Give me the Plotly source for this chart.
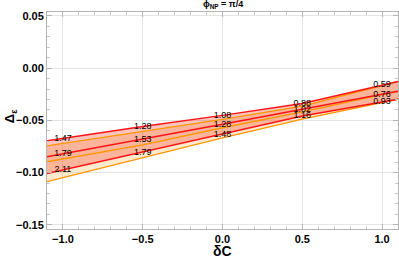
import plotly.graph_objects as go

# x grid (δC)
dC = [-1.1, -1.0, -0.5, 0.0, 0.5, 1.0, 1.1]

# red contour lines (upper, middle, lower)
red_top = [-0.0696, -0.0673, -0.0558, -0.0452, -0.0339, -0.0163, -0.0128]
red_mid = [-0.0848, -0.0820, -0.0683, -0.0538, -0.0394, -0.0250, -0.0221]
red_low = [-0.1008, -0.0974, -0.0805, -0.0635, -0.0459, -0.0324, -0.0297]

# orange contour lines (upper, middle, lower)
org_top = [-0.0744, -0.0721, -0.0606, -0.0490, -0.0363, -0.0166, -0.0128]
org_mid = [-0.0896, -0.0868, -0.0734, -0.0570, -0.0418, -0.0253, -0.0221]
org_low = [-0.1087, -0.1049, -0.0860, -0.0668, -0.0488, -0.0329, -0.0297]

# contour labels
lab_x = [-1.0, -0.5, 0.0, 0.5, 1.0]
lab_top = ["1.47", "1.28", "1.08", "0.88", "0.59"]
lab_mid = ["1.79", "1.53", "1.28", "1.02", "0.76"]
lab_low = ["2.11", "1.79", "1.48", "1.16", "0.93"]
lab_top_y = [-0.0673, -0.0558, -0.0452, -0.0339, -0.0163]
lab_mid_y = [-0.0820, -0.0683, -0.0538, -0.0394, -0.0250]
lab_low_y = [-0.0974, -0.0805, -0.0635, -0.0459, -0.0324]

xticks = [-1.0, -0.5, 0.0, 0.5, 1.0]
yticks = [-0.15, -0.10, -0.05, 0.00, 0.05]
yticklabels = ["\u22120.15", "\u22120.10", "\u22120.05", "0.00", "0.05"]
xticklabels = ["\u22121.0", "\u22120.5", "0.0", "0.5", "1.0"]

RED = "rgb(255,20,20)"
ORANGE = "rgb(255,150,0)"

fig = go.Figure()

# orange band
fig.add_trace(go.Scatter(x=dC, y=org_low, mode="lines", line=dict(width=0), showlegend=False, hoverinfo="skip"))
fig.add_trace(go.Scatter(x=dC, y=org_top, mode="lines", line=dict(width=0), fill="tonexty",
                         fillcolor="rgba(255,170,60,0.25)", showlegend=False, hoverinfo="skip"))
# red band
fig.add_trace(go.Scatter(x=dC, y=red_low, mode="lines", line=dict(width=0), showlegend=False, hoverinfo="skip"))
fig.add_trace(go.Scatter(x=dC, y=red_top, mode="lines", line=dict(width=0), fill="tonexty",
                         fillcolor="rgba(255,60,40,0.30)", showlegend=False, hoverinfo="skip"))

for ys in (org_top, org_mid, org_low):
    fig.add_trace(go.Scatter(x=dC, y=ys, mode="lines", line=dict(color=ORANGE, width=1.4),
                             showlegend=False, hoverinfo="skip"))
for ys in (red_top, red_mid, red_low):
    fig.add_trace(go.Scatter(x=dC, y=ys, mode="lines", line=dict(color=RED, width=1.5),
                             showlegend=False, hoverinfo="skip"))

for ly, lt in ((lab_top_y, lab_top), (lab_mid_y, lab_mid), (lab_low_y, lab_low)):
    fig.add_trace(go.Scatter(x=lab_x, y=ly, mode="text", text=lt, cliponaxis=False,
                             textfont=dict(family="Liberation Sans", size=9, color="black"),
                             textposition="middle center", showlegend=False, hoverinfo="skip"))

axis_common = dict(
    showline=True, linecolor="#b4b4b4", linewidth=1, mirror="allticks",
    ticks="inside", ticklen=5, tickcolor="#b4b4b4", tickwidth=1,
    showgrid=True, gridcolor="#e4e4e4", gridwidth=1, zeroline=False, automargin=False,
    tickfont=dict(family="Liberation Sans", size=11, color="black", weight="bold"),
)

fig.update_xaxes(range=[-1.1, 1.1], tickvals=xticks, ticktext=xticklabels,
                 minor=dict(ticks="inside", ticklen=3, tickcolor="#c8c8c8", dtick=0.1, tick0=0, showgrid=False),
                 **axis_common)
fig.update_yaxes(range=[-0.154, 0.0538], tickvals=yticks, ticktext=yticklabels,
                 minor=dict(ticks="inside", ticklen=3, tickcolor="#c8c8c8", dtick=0.01, tick0=0, showgrid=False),
                 **axis_common)

fig.update_layout(
    width=399, height=258,
    margin=dict(l=47, r=1, t=12, b=29),
    paper_bgcolor="white", plot_bgcolor="white",
    annotations=[
        dict(text="\u03d5<sub>NP</sub> = \u03c0/4", xref="paper", yref="paper", x=0.5, y=1,
             yshift=0, xanchor="center", yanchor="bottom", showarrow=False,
             font=dict(family="Liberation Sans", size=9, color="black", weight="bold")),
        dict(text="\u03b4C", xref="paper", yref="paper", x=0.5, y=0, yshift=-12,
             xanchor="center", yanchor="top", showarrow=False,
             font=dict(family="Liberation Sans", size=14, color="black", weight="bold")),
        dict(text="\u0394<sub>\u03b5</sub>", xref="paper", yref="paper", x=0, xshift=-37, y=0.52,
             xanchor="center", yanchor="middle", textangle=-90, showarrow=False,
             font=dict(family="Liberation Sans", size=13, color="black", weight="bold")),
    ],
)

fig.write_html("out.html", config={"displayModeBar": False},
               post_script="document.body.style.margin='0';document.body.style.overflow='hidden';")
